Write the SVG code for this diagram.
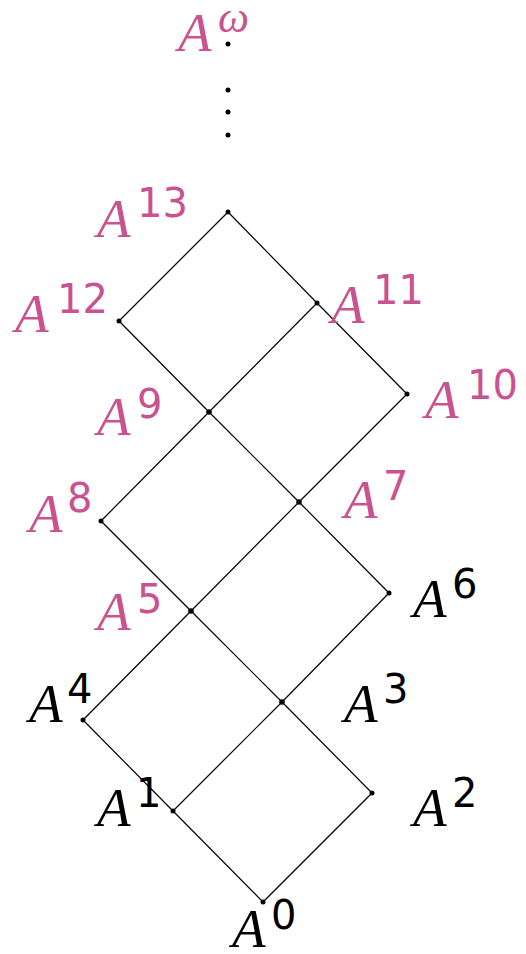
<svg xmlns="http://www.w3.org/2000/svg" width="526" height="954" viewBox="0 0 526 954">
<style>
.e{stroke:#000;stroke-width:1.2;fill:none}
.d{fill:#000}
.a{font-family:"Liberation Serif",serif;font-style:italic;font-size:55px}
.s{font-family:"DejaVu Sans",sans-serif;font-size:40px}
.w{font-family:"Liberation Serif",serif;font-style:italic;font-size:44px}
.p{fill:#c9528f}
.k{fill:#000}
</style>
<rect width="526" height="954" fill="#fff"/>
<g id="connectors">
<line class="e" x1="263" y1="902" x2="173" y2="811"/>
<line class="e" x1="263" y1="902" x2="372" y2="793"/>
<line class="e" x1="173" y1="811" x2="83" y2="720"/>
<line class="e" x1="173" y1="811" x2="282" y2="702"/>
<line class="e" x1="372" y1="793" x2="282" y2="702"/>
<line class="e" x1="83" y1="720" x2="191" y2="611"/>
<line class="e" x1="282" y1="702" x2="191" y2="611"/>
<line class="e" x1="282" y1="702" x2="389" y2="593"/>
<line class="e" x1="191" y1="611" x2="101" y2="521"/>
<line class="e" x1="191" y1="611" x2="299" y2="502"/>
<line class="e" x1="389" y1="593" x2="299" y2="502"/>
<line class="e" x1="101" y1="521" x2="209" y2="412"/>
<line class="e" x1="299" y1="502" x2="209" y2="412"/>
<line class="e" x1="299" y1="502" x2="407" y2="394"/>
<line class="e" x1="209" y1="412" x2="119" y2="321"/>
<line class="e" x1="209" y1="412" x2="317" y2="303"/>
<line class="e" x1="407" y1="394" x2="317" y2="303"/>
<line class="e" x1="119" y1="321" x2="228" y2="212"/>
<line class="e" x1="317" y1="303" x2="228" y2="212"/>
</g>
<g id="dots">
<circle class="d" cx="228" cy="90" r="2.5"/>
<circle class="d" cx="228" cy="112" r="2.5"/>
<circle class="d" cx="228" cy="135" r="2.5"/>
</g>
<g id="Aomega" class="p"><circle class="d" cx="228" cy="44" r="2.5"/><text class="a" x="178" y="51">A</text><text class="w" x="218" y="32">ω</text></g>
<g id="A13" class="p"><circle class="d" cx="228" cy="212" r="2.5"/><text class="a" x="97" y="237">A</text><text class="s" x="137" y="217">13</text></g>
<g id="A12" class="p"><circle class="d" cx="119" cy="321" r="2.5"/><text class="a" x="15" y="332">A</text><text class="s" x="57" y="313">12</text></g>
<g id="A11" class="p"><circle class="d" cx="317" cy="303" r="2.5"/><text class="a" x="331" y="323">A</text><text class="s" x="373" y="304">11</text></g>
<g id="A10" class="p"><circle class="d" cx="407" cy="394" r="2.5"/><text class="a" x="425" y="418">A</text><text class="s" x="467" y="399">10</text></g>
<g id="A9" class="p"><circle class="d" cx="209" cy="412" r="2.8"/><text class="a" x="97" y="435">A</text><text class="s" x="137" y="418">9</text></g>
<g id="A8" class="p"><circle class="d" cx="101" cy="521" r="2.5"/><text class="a" x="29" y="532">A</text><text class="s" x="67" y="512">8</text></g>
<g id="A7" class="p"><circle class="d" cx="299" cy="502" r="2.8"/><text class="a" x="344" y="518">A</text><text class="s" x="383" y="500">7</text></g>
<g id="A6" class="k"><circle class="d" cx="389" cy="593" r="2.5"/><text class="a" x="413" y="617">A</text><text class="s" x="452" y="598">6</text></g>
<g id="A5" class="p"><circle class="d" cx="191" cy="611" r="2.8"/><text class="a" x="97" y="630">A</text><text class="s" x="137" y="613">5</text></g>
<g id="A4" class="k"><circle class="d" cx="83" cy="720" r="2.5"/><text class="a" x="29" y="722">A</text><text class="s" x="67" y="703">4</text></g>
<g id="A3" class="k"><circle class="d" cx="282" cy="702" r="2.8"/><text class="a" x="344" y="722">A</text><text class="s" x="383" y="703">3</text></g>
<g id="A2" class="k"><circle class="d" cx="372" cy="793" r="2.5"/><text class="a" x="413" y="826">A</text><text class="s" x="452" y="807">2</text></g>
<g id="A1" class="k"><circle class="d" cx="173" cy="811" r="2.5"/><text class="a" x="97" y="826">A</text><text class="s" x="136" y="807">1</text></g>
<g id="A0" class="k"><circle class="d" cx="263" cy="902" r="2.5"/><text class="a" x="232" y="947">A</text><text class="s" x="271" y="929">0</text></g>
</svg>
